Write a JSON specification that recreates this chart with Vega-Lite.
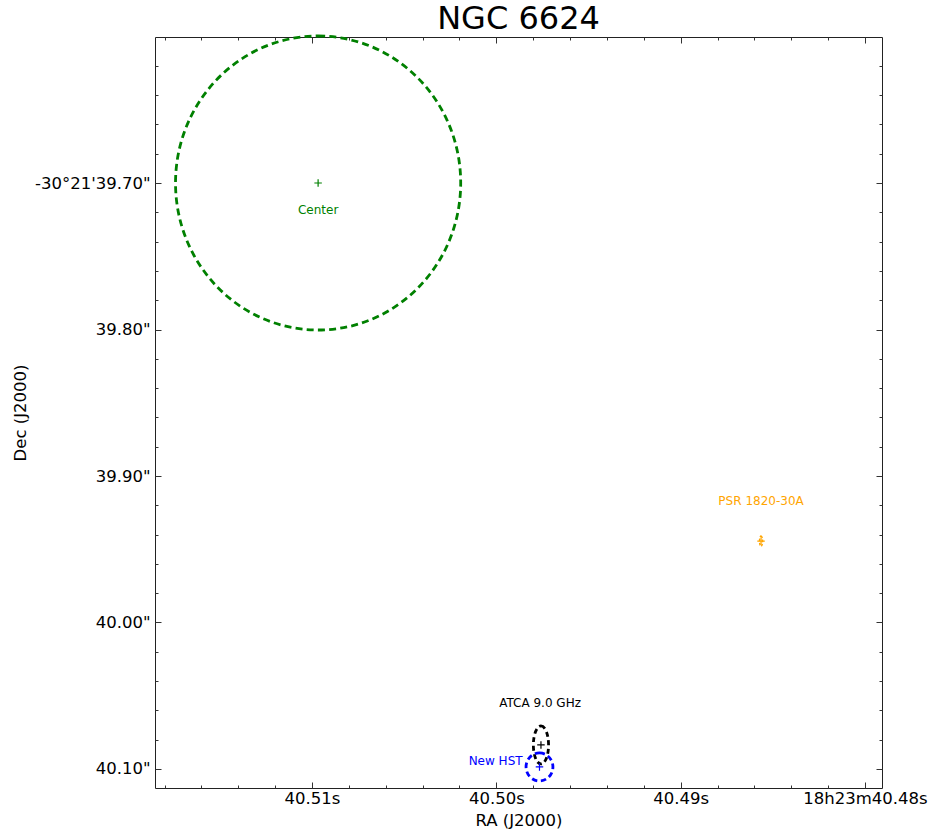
{
  "$schema": "https://vega.github.io/schema/vega-lite/v6.json",
  "autosize": {"type": "none"},
  "padding": {"left": 155, "top": 37, "right": 48, "bottom": 42},
  "width": 727,
  "height": 751,
  "background": "white",
  "title": {"text": "NGC 6624", "font": "DejaVu Sans", "fontSize": 32, "fontWeight": "normal", "color": "#000000", "anchor": "middle", "offset": -6},
  "datasets": {
    "sources": [
      {"name": "Center", "ra": 40.50967, "dec": 39.7000},
      {"name": "ATCA 9.0 GHz", "ra": 40.49758, "dec": 40.0836},
      {"name": "New HST", "ra": 40.49766, "dec": 40.0986},
      {"name": "PSR 1820-30A", "ra": 40.48564, "dec": 39.9444}
    ],
    "labels": [
      {"name": "Center", "ra": 40.50967, "dec": 39.7184},
      {"name": "ATCA 9.0 GHz", "ra": 40.49763, "dec": 40.0549},
      {"name": "New HST", "ra": 40.50004, "dec": 40.0945},
      {"name": "PSR 1820-30A", "ra": 40.48564, "dec": 39.9171}
    ]
  },
  "data": {"name": "sources"},
  "encoding": {
    "x": {"field": "ra", "type": "quantitative", "axis": null, "scale": {"domain": [40.479078, 40.518519], "reverse": true, "zero": false, "nice": false}},
    "y": {"field": "dec", "type": "quantitative", "axis": null, "scale": {"domain": [39.60034, 40.11297], "reverse": true, "zero": false, "nice": false}},
    "color": {"field": "name", "type": "nominal", "legend": null, "scale": {"domain": ["Center", "ATCA 9.0 GHz", "New HST", "PSR 1820-30A"], "range": ["#008000", "#000000", "#0000ff", "#ffa500"]}}
  },
  "layer": [
    {
      "transform": [{"filter": "datum.name === 'Center'"}],
      "mark": {"type": "point", "filled": false, "shape": "M0,-1A0.97,1,0,1,1,0,1A0.97,1,0,1,1,0,-1Z", "size": 86436, "strokeWidth": 2.8, "strokeDash": [7, 4.2], "opacity": 1}
    },
    {
      "transform": [{"filter": "datum.name === 'ATCA 9.0 GHz'"}],
      "mark": {"type": "point", "filled": false, "shape": "M0,-1A0.4,1,0,1,1,0,1A0.4,1,0,1,1,0,-1Z", "size": 1444, "strokeWidth": 2.8, "strokeDash": [5, 3.5], "opacity": 1}
    },
    {
      "transform": [{"filter": "datum.name === 'New HST'"}],
      "mark": {"type": "point", "filled": false, "shape": "M0,-1A0.96,1,0,1,1,0,1A0.96,1,0,1,1,0,-1Z", "size": 784, "strokeWidth": 2.8, "strokeDash": [5.5, 3.5], "opacity": 1}
    },
    {
      "transform": [{"filter": "datum.name === 'PSR 1820-30A'"}],
      "mark": {"type": "point", "filled": false, "shape": "M0,-1A0.3,1,0,1,1,0,1A0.3,1,0,1,1,0,-1Z", "size": 100, "strokeWidth": 1.5, "strokeDash": [2.5, 1.5], "opacity": 1}
    },
    {
      "mark": {"type": "point", "filled": false, "shape": "M-1,0L1,0M0,-1L0,1", "size": 56, "strokeWidth": 1.2, "opacity": 1},
      "encoding": {
        "x": {"field": "ra", "type": "quantitative",
          "scale": {"domain": [40.479078, 40.518519], "reverse": true, "zero": false, "nice": false},
          "axis": {"orient": "bottom", "title": "RA (J2000)", "titlePadding": 3,
            "values": [40.48, 40.482, 40.484, 40.486, 40.488, 40.49, 40.492, 40.494, 40.496, 40.498, 40.5, 40.502, 40.504, 40.506, 40.508, 40.51, 40.512, 40.514, 40.516, 40.518],
            "tickSize": {"condition": {"test": "abs(datum.value*100 - round(datum.value*100)) < 0.001", "value": -6}, "value": -3},
            "labelPadding": 8, "labelFlush": false, "labelOverlap": false, "labelBound": false,
            "labelExpr": "abs(datum.value*100 - round(datum.value*100)) < 0.001 ? (abs(datum.value - 40.48) < 0.0001 ? '18h23m40.48s' : format(datum.value, '.2f') + 's') : ''"}},
        "y": {"field": "dec", "type": "quantitative",
          "scale": {"domain": [39.60034, 40.11297], "reverse": true, "zero": false, "nice": false},
          "axis": {"orient": "left", "title": "Dec (J2000)", "titlePadding": 6,
            "values": [39.62, 39.64, 39.66, 39.68, 39.7, 39.72, 39.74, 39.76, 39.78, 39.8, 39.82, 39.84, 39.86, 39.88, 39.9, 39.92, 39.94, 39.96, 39.98, 40, 40.02, 40.04, 40.06, 40.08, 40.1],
            "tickSize": {"condition": {"test": "abs(datum.value*10 - round(datum.value*10)) < 0.001", "value": -6}, "value": -3},
            "labelPadding": 11, "labelFlush": false, "labelOverlap": false, "labelBound": false,
            "labelExpr": "abs(datum.value*10 - round(datum.value*10)) < 0.001 ? (abs(datum.value - 39.7) < 0.0001 ? '-30°21\\'39.70\"' : format(datum.value, '.2f') + '\"') : ''"}}
      }
    },
    {
      "data": {"name": "labels"},
      "mark": {"type": "text", "font": "DejaVu Sans", "fontSize": 12, "align": "center", "baseline": "middle"},
      "encoding": {"text": {"field": "name", "type": "nominal"}}
    },
    {
      "mark": {"type": "point", "opacity": 0},
      "encoding": {
        "x": {"field": "ra", "type": "quantitative",
          "scale": {"domain": [40.479078, 40.518519], "reverse": true, "zero": false, "nice": false},
          "axis": {"orient": "top", "title": null, "labels": false,
            "values": [40.48, 40.482, 40.484, 40.486, 40.488, 40.49, 40.492, 40.494, 40.496, 40.498, 40.5, 40.502, 40.504, 40.506, 40.508, 40.51, 40.512, 40.514, 40.516, 40.518],
            "tickSize": {"condition": {"test": "abs(datum.value*100 - round(datum.value*100)) < 0.001", "value": -6}, "value": -3}}},
        "y": {"field": "dec", "type": "quantitative",
          "scale": {"domain": [39.60034, 40.11297], "reverse": true, "zero": false, "nice": false},
          "axis": {"orient": "right", "title": null, "labels": false,
            "values": [39.62, 39.64, 39.66, 39.68, 39.7, 39.72, 39.74, 39.76, 39.78, 39.8, 39.82, 39.84, 39.86, 39.88, 39.9, 39.92, 39.94, 39.96, 39.98, 40, 40.02, 40.04, 40.06, 40.08, 40.1],
            "tickSize": {"condition": {"test": "abs(datum.value*10 - round(datum.value*10)) < 0.001", "value": -6}, "value": -3}}}
      }
    }
  ],
  "resolve": {"axis": {"x": "independent", "y": "independent"}},
  "config": {
    "view": {"stroke": "#222222", "strokeWidth": 1},
    "axis": {"domain": false, "grid": false, "tickColor": "#333333", "tickWidth": 1,
      "labelFont": "DejaVu Sans", "titleFont": "DejaVu Sans", "labelFontSize": 16.5, "titleFontSize": 16.5,
      "labelColor": "#000000", "titleColor": "#000000", "titleFontWeight": "normal"}
  }
}
